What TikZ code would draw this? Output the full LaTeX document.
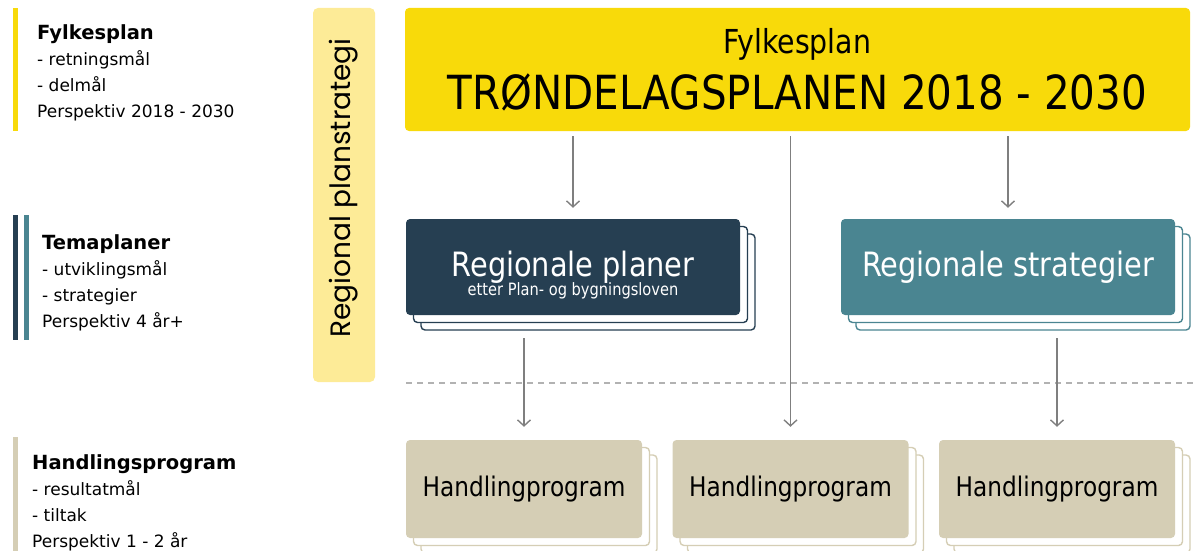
\documentclass[tikz,border=0pt]{standalone}
\usepackage{fontspec}
\setmainfont{DejaVu Sans}
\newfontfamily\boxfont[FakeStretch=0.86]{DejaVu Sans}
\newfontfamily\stratfont{Poppins}
\usetikzlibrary{positioning,shadows,arrows.meta}

\definecolor{fyGul}{HTML}{F8DA0A}
\definecolor{lysGul}{HTML}{FDEB97}
\definecolor{morkBla}{HTML}{263F52}
\definecolor{tealBla}{HTML}{4A8591}
\definecolor{beigeGra}{HTML}{D5CEB5}
\definecolor{pilGra}{HTML}{7F7F7F}

\newcommand{\legtittel}[1]{{\fontsize{19.5}{26}\selectfont\bfseries #1}}

\tikzset{
  stabel/.style={
    general shadow={shadow xshift=15pt, shadow yshift=-15pt, fill=white, draw=#1, line width=1.4pt},
    general shadow={shadow xshift=7.5pt, shadow yshift=-7.5pt, fill=white, draw=#1, line width=1.4pt}},
  planboks/.style={rectangle, rounded corners=4pt, inner sep=0pt, fill=#1, stabel=#1,
    minimum width=334pt, minimum height=96pt, text=white,
    font=\boxfont\fontsize{33.5}{38}\selectfont},
  hpboks/.style={rectangle, rounded corners=4pt, inner sep=0pt, fill=beigeGra, stabel=beigeGra,
    minimum width=236pt, minimum height=98pt, text=black,
    font=\boxfont\fontsize{27}{30}\selectfont},
  legende/.style={anchor=north west, inner sep=0pt, align=left,
    font=\fontsize{17}{26.3}\selectfont},
  pil/.style={draw=pilGra, line width=1.4pt, -{Straight Barb[length=6pt,width=13pt]}}
}

\begin{document}
\begin{tikzpicture}[x=1pt,y=-1pt]
    \useasboundingbox (0,0) rectangle (1193,551);

    % fargestolper til venstre
    \fill[fyGul] (13,8) rectangle (18,131);
    \fill[morkBla] (13,215) rectangle (18,340);
    \fill[tealBla] (24,215) rectangle (29,340);
    \fill[beigeGra] (13,437) rectangle (18,551);

    % forklaringstekster
    \node[legende] (fyTxt) at (37,24) {\legtittel{Fylkesplan}\\- retningsmål\\- delmål\\Perspektiv 2018 - 2030};
    \node[legende] (temaTxt) at (42,234) {\legtittel{Temaplaner}\\- utviklingsmål\\- strategier\\Perspektiv 4 år+};
    \node[legende] (hpTxt) at (32,454) {\legtittel{Handlingsprogram}\\- resultatmål\\- tiltak\\Perspektiv 1 - 2 år};

    % regional planstrategi
    \node[rectangle, rounded corners=5pt, fill=lysGul, minimum width=62pt,
          minimum height=374pt] (planstrat) at (344,195) {};
    \node[rotate=90, inner sep=0pt, font=\stratfont\fontsize{28}{32}\selectfont] (planstratTxt)
          at ([yshift=7pt]planstrat.center) {Regional planstrategi};

    % fylkesplanen
    \node[rectangle, rounded corners=4pt, fill=fyGul, minimum width=785pt, minimum height=123pt,
          align=center, font=\boxfont\fontsize{47}{55}\selectfont] (fylke) at (797.5,69.5)
          {{\fontsize{33}{36}\selectfont Fylkesplan}\\[1pt]TRØNDELAGSPLANEN 2018 - 2030};

    % temaplaner
    \node[planboks=morkBla] (regplan) at (573,267) {Regionale planer};
    \node[font=\boxfont\fontsize{17}{20}\selectfont, text=white, below=12pt of regplan.center] (regplanSub) {etter Plan- og bygningsloven};
    \node[planboks=tealBla] (regstrat) at (1008,267) {Regionale strategier};

    % handlingsprogram
    \foreach \navn/\x in {hp1/524, hp2/790.5, hp3/1057}{
        \node[hpboks] (\navn) at (\x,489) {Handlingprogram};
    }

    % skille
    \coordinate (skilleV) at (406,383);
    \coordinate (skilleH) at (1193,383);
    \draw[gray!60, line width=1.2pt, dash pattern=on 6pt off 5pt] (skilleV) -- (skilleH);

    % piler
    \draw[pil] ([yshift=-5pt]fylke.south -| regplan.north) -- ([yshift=11pt]regplan.north);
    \draw[pil] ([yshift=-5pt]fylke.south -| regstrat.north) -- ([yshift=11pt]regstrat.north);
    \draw[pil] ([yshift=-5pt]fylke.south -| hp2.north) -- ([yshift=13pt]hp2.north);
    \draw[pil] ([yshift=-23pt]regplan.south -| hp1.north) -- ([yshift=13pt]hp1.north);
    \draw[pil] ([yshift=-23pt]regstrat.south -| hp3.north) -- ([yshift=13pt]hp3.north);
\end{tikzpicture}
\end{document}
